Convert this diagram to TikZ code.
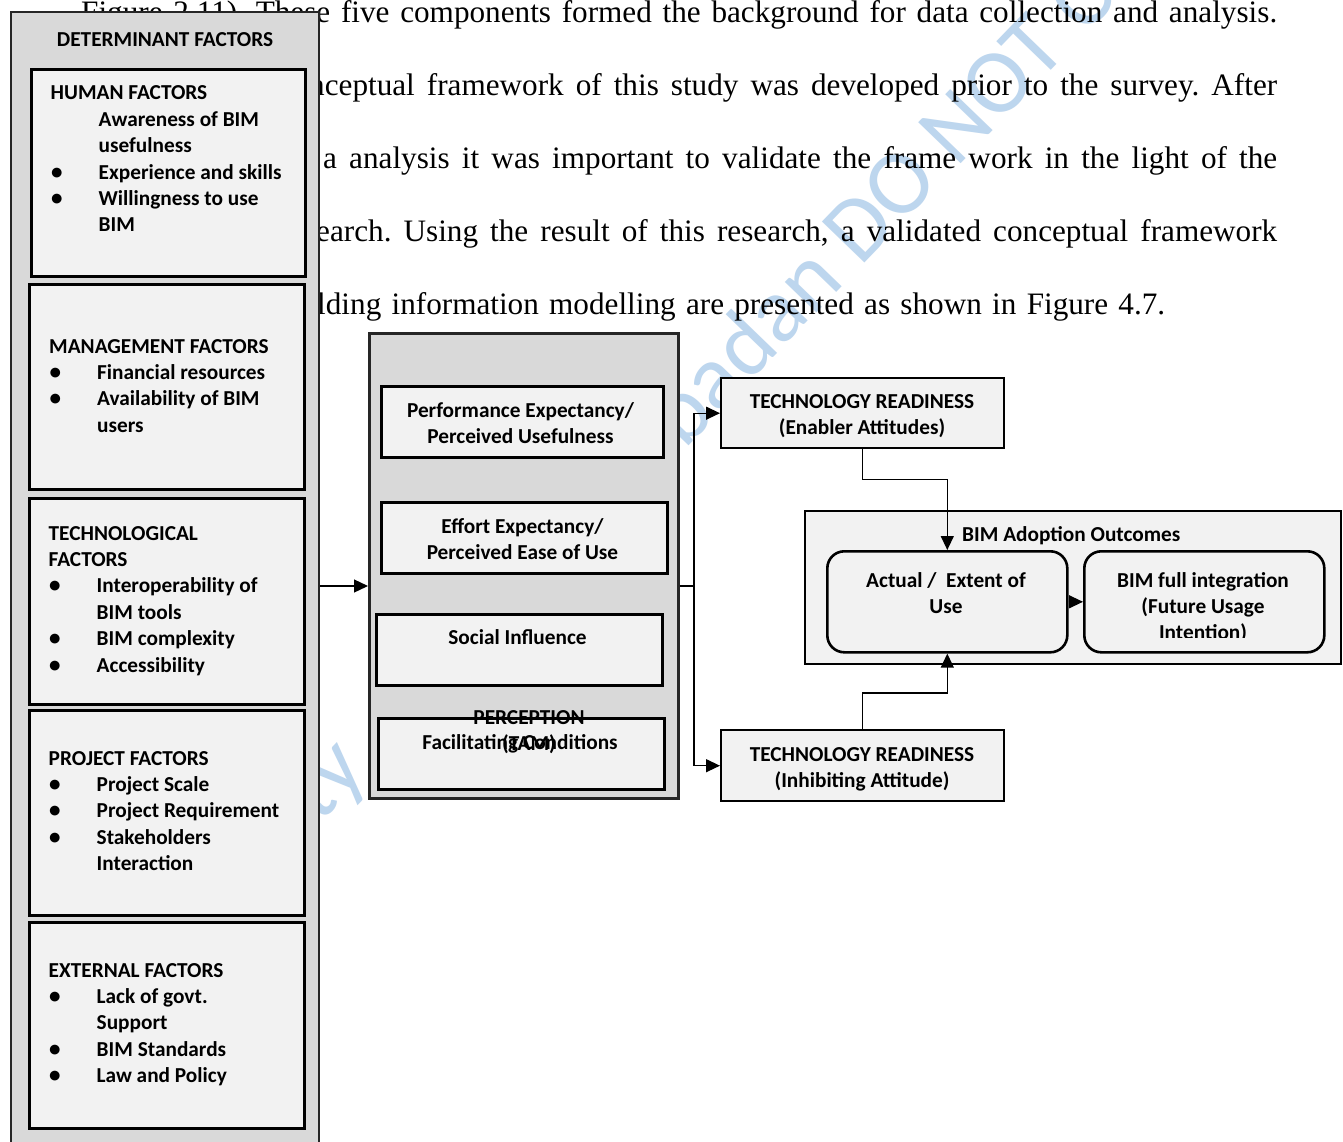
\documentclass[tikz,border=0pt]{standalone}
\usepackage{fontspec}
\setmainfont{Liberation Serif}
\newfontfamily\calfont{Carlito}
\usetikzlibrary{arrows.meta,calc}
\frenchspacing

\definecolor{panelgray}{RGB}{217,217,217}
\definecolor{boxgray}{RGB}{242,242,242}
\definecolor{wmblue}{RGB}{189,214,238}

% list helpers for the factor boxes
\newcommand{\bul}[1]{\hspace*{0.5pt}\makebox[47.5pt][l]{\smash{\fontsize{23}{0}\selectfont\textbullet}}#1}
\newcommand{\cnt}[1]{\hspace*{48pt}#1}
\newcommand{\boxfont}{\calfont\bfseries\fontsize{21.3}{26.4}\selectfont}
\newcommand{\ctext}[2]{\parbox[t]{#1}{\centering #2}}
\newcommand{\ltext}[1]{\parbox[t]{250pt}{\raggedright #1}}

\tikzset{
  panel/.style={draw=black!85, line width=2pt, fill=panelgray, inner sep=0pt, anchor=north west},
  factorbox/.style={draw=black, line width=2.6pt, fill=boxgray, inner sep=0pt, anchor=north west},
  roundbox/.style={factorbox, rounded corners=17pt},
  txt/.style={inner sep=0pt, font=\boxfont},
  body/.style={inner sep=0pt, anchor=base west, font=\fontsize{31.2}{36}\selectfont},
  wm/.style={inner sep=0pt, text=wmblue, font=\calfont\fontsize{92}{92}\selectfont, rotate=46},
  link/.style={line width=1.3pt},
  arr/.style={line width=1.3pt, -{Triangle[length=14pt,width=13pt]}}
}

\begin{document}
\begin{tikzpicture}[x=1pt,y=-1pt]
\useasboundingbox (0,0) rectangle (1343,1142);
\fill[white] (0,0) rectangle (1343,1142);
\clip (0,0) rectangle (1343,1142);

% watermark
\node[wm, anchor=base east] (wmA) at (370,772) {University};
\node[wm, anchor=base west] (wmB) at (668,467) {Ibadan DO NOT COPY};

% running text of the page
\node[body] (l1) at (81,22.5) {\makebox[1196pt][s]{Figure 2.11). These five components formed the background for data collection and analysis.}};
\node[body] (l2) at (309,95.6) {\makebox[968pt][s]{nceptual framework of this study was developed prior to the survey. After}};
\node[body] (l3) at (323,168.7) {\makebox[954pt][s]{a analysis it was important to validate the frame work in the light of the}};
\node[body] (l4) at (316,241.8) {\makebox[961pt][s]{earch. Using the result of this research, a validated conceptual framework}};
\node[body] (l5) at (317,314.9) {\makebox[848pt][s]{lding information modelling are presented as shown in Figure 4.7.}};

% determinant factors column
\node[panel, minimum width=308pt, minimum height=1160pt] (det) at (10,11) {};
\node[txt, anchor=base] (detT) at (165,46.5) {DETERMINANT FACTORS};

\node[factorbox, minimum width=274pt, minimum height=207pt] (human) at (30,68) {};
\node[factorbox, minimum width=275pt, minimum height=205pt] (mgmt) at (28,283) {};
\node[factorbox, minimum width=275pt, minimum height=206pt] (tech) at (28,497) {};
\node[factorbox, minimum width=275pt, minimum height=205pt] (proj) at (28,709) {};
\node[factorbox, minimum width=275pt, minimum height=206pt] (ext) at (28,921) {};

\node[txt, anchor=base west] (humanT) at (50.5,100) {\ltext{HUMAN FACTORS\\ \cnt{Awareness of BIM}\\ \cnt{usefulness}\\ \bul{Experience and skills}\\ \bul{Willingness to use}\\ \cnt{BIM}}};
\node[txt, anchor=base west] (mgmtT) at (49,353) {\ltext{MANAGEMENT FACTORS\\ \bul{Financial resources}\\ \bul{Availability of BIM}\\ \cnt{users}}};
\node[txt, anchor=base west] (techT) at (48.5,540) {\ltext{TECHNOLOGICAL\\ FACTORS\\ \bul{Interoperability of}\\ \cnt{BIM tools}\\ \bul{BIM complexity}\\ \bul{Accessibility}}};
\node[txt, anchor=base west] (projT) at (48.5,765) {\ltext{PROJECT FACTORS\\ \bul{Project Scale}\\ \bul{Project Requirement}\\ \bul{Stakeholders}\\ \cnt{Interaction}}};
\node[txt, anchor=base west] (extT) at (48.5,977) {\ltext{EXTERNAL FACTORS\\ \bul{Lack of govt.}\\ \cnt{Support}\\ \bul{BIM Standards}\\ \bul{Law and Policy}}};

% perception (TAM) column
\node[panel, line width=2.5pt, minimum width=309pt, minimum height=465pt] (perc) at (368,332) {};
\node[factorbox, minimum width=282pt, minimum height=71pt] (pe) at (380,385) {};
\node[factorbox, minimum width=286pt, minimum height=71pt] (ee) at (380,501) {};
\node[factorbox, minimum width=286pt, minimum height=71pt] (si) at (375,613) {};
\node[factorbox, minimum width=286pt, minimum height=71pt] (fc) at (377,717) {};

\node[txt, anchor=base] (peT) at (520.5,417) {\ctext{270pt}{Performance Expectancy/\\Perceived Usefulness}};
\node[txt, anchor=base] (eeT) at (522.5,533) {\ctext{270pt}{Effort Expectancy/\\Perceived Ease of Use}};
\node[txt, anchor=base] (siT) at (517.5,644) {Social Influence};
\node[txt, anchor=base] (fcT) at (520,749) {Facilitating Conditions};
\node[txt, anchor=base] (percT) at (529,724) {\ctext{200pt}{PERCEPTION\\(TAM)}};

% technology readiness
\node[factorbox, line width=2.4pt, minimum width=283pt, minimum height=70pt] (trE) at (720,377) {};
\node[factorbox, line width=2.4pt, minimum width=283pt, minimum height=71pt] (trI) at (720,729) {};
\node[txt, anchor=base] (trET) at (862,408) {\ctext{280pt}{TECHNOLOGY READINESS\\(Enabler Attitudes)}};
\node[txt, anchor=base] (trIT) at (862,761) {\ctext{280pt}{TECHNOLOGY READINESS\\(Inhibiting Attitude)}};

% adoption outcomes
\node[factorbox, line width=2pt, minimum width=536pt, minimum height=153pt] (outc) at (804,510) {};
\node[txt, anchor=base west] (outcT) at (962,541) {BIM Adoption Outcomes};
\node[roundbox, minimum width=240pt, minimum height=101pt] (actual) at (826,550) {};
\node[roundbox, minimum width=240pt, minimum height=101pt] (full) at (1083,550) {};
\node[txt, anchor=base] (actualT) at (946,587) {\ctext{220pt}{Actual /\ \ Extent of\\Use}};
\begin{scope}
  \clip (1083,550) rectangle (1323,637);
  \node[txt, anchor=base] (fullT) at (1203,587) {\ctext{230pt}{BIM full integration\\(Future Usage\\Intention)}};
\end{scope}

% connectors
\coordinate (inY) at (0,586);
\coordinate (trunk) at (694,586);
\draw[arr] (det.east |- inY) -- (perc.west |- inY);
\draw[link] (perc.east |- trunk) -- (trunk);
\draw[arr] (trunk) |- (trE.west);
\draw[arr] (trunk) |- (trI.west);
\draw[arr] (trE.south) -- ++(0,30) -| (actual.north);
\draw[arr] (trI.north) -- ++(0,-36) -| (actual.south);
\draw[arr] (actual.east) -- (full.west);
\end{tikzpicture}
\end{document}
